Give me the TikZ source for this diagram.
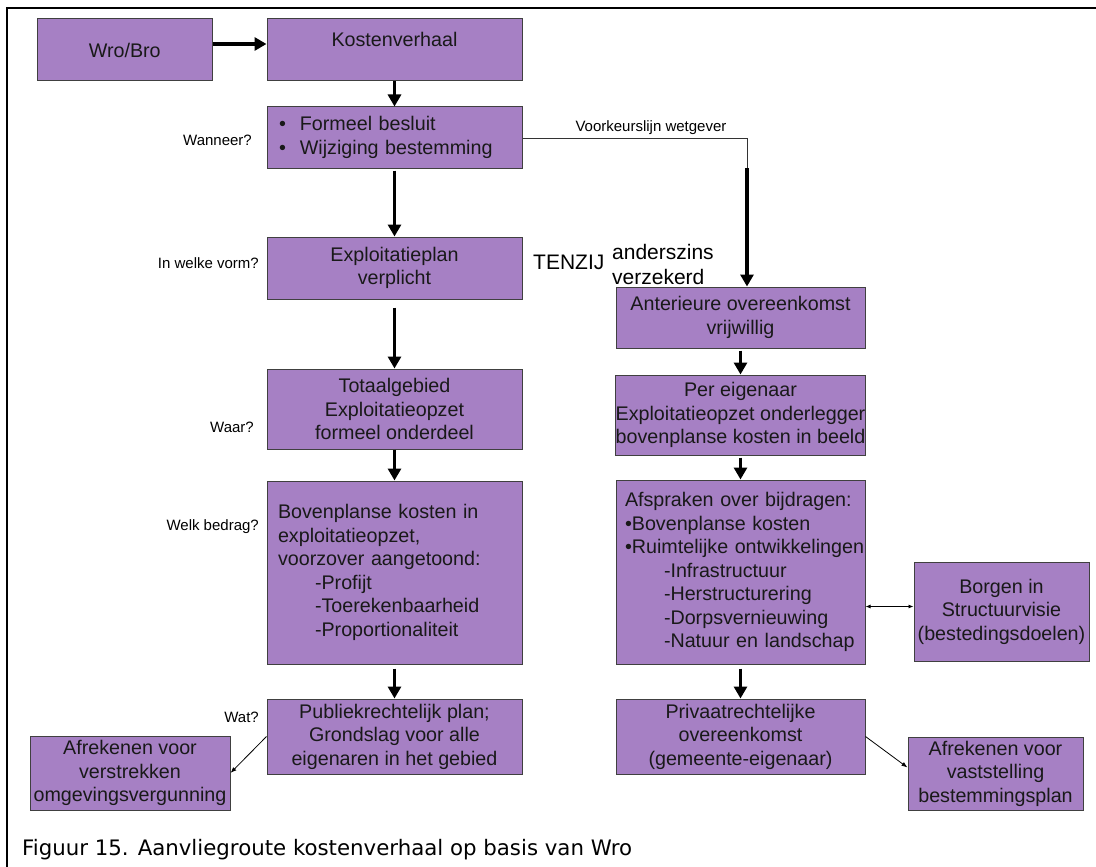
\documentclass[tikz,border=0pt]{standalone}
\usepackage{fontspec}
\setmainfont{Liberation Sans}
\newfontfamily\capfont{DejaVu Sans}
\usetikzlibrary{arrows.meta}
\definecolor{boxfill}{HTML}{A680C4}
\definecolor{boxline}{HTML}{404040}
\tikzset{
  box/.style={draw=boxline, fill=boxfill, line width=1pt, inner sep=0pt, align=center,
    font=\fontsize{19.7}{23.5}\selectfont, text=black!90},
  lbox/.style={box, align=left},
  thick arrow/.style={line width=3.6pt, -{Triangle[length=12pt,width=13pt]}},
  thin arrow/.style={line width=0.8pt, -{Latex[length=6pt,width=4.5pt]}},
  thin both/.style={line width=0.8pt, {Latex[length=5pt,width=4pt]}-{Latex[length=5pt,width=4pt]}},
  thin line/.style={line width=0.8pt, draw=black!80},
  qlabel/.style={font=\fontsize{15}{18}\selectfont, anchor=east, inner sep=0pt},
  bigtext/.style={font=\fontsize{21}{25}\selectfont, inner sep=0pt},
}
\begin{document}
\begin{tikzpicture}[x=1pt,y=-1pt]
\useasboundingbox (0,0) rectangle (1096,867);
\fill[white] (0,0) rectangle (1096,867);
\draw[line width=1.5pt] (7,867) -- (7,8) -- (1096,8);

% left column
\node[box, minimum width=174.5, minimum height=62] (wro) at (124.75,50) {Wro/Bro};
\node[box, minimum width=255, minimum height=62] (kosten) at (394.5,50) {Kostenverhaal\\[-10pt]\strut};
\node[lbox, text width=231, inner xsep=12, minimum height=61] (formeel) at (394.5,137.5)
  {\textbullet\hspace{14pt}Formeel besluit\\\textbullet\hspace{14pt}Wijziging bestemming};
\node[box, minimum width=255, minimum height=62] (exploit) at (394.5,268) {Exploitatieplan\\verplicht};
\node[box, minimum width=255, minimum height=80] (totaal) at (394.5,409) {Totaalgebied\\Exploitatieopzet\\formeel onderdeel};
\node[lbox, text width=233, inner xsep=11, minimum height=183] (boven) at (394.5,572.5)
  {Bovenplanse kosten in\\exploitatieopzet,\\voorzover aangetoond:\\\hspace*{37pt}-Profijt\\\hspace*{37pt}-Toerekenbaarheid\\\hspace*{37pt}-Proportionaliteit};
\node[box, minimum width=255, minimum height=75] (publiek) at (394.5,736.5) {Publiekrechtelijk plan;\\Grondslag voor alle\\eigenaren in het gebied};
\node[box, minimum width=200, minimum height=74] (afrl) at (130,773) {Afrekenen voor\\verstrekken\\omgevingsvergunning};

% right column
\node[box, minimum width=249, minimum height=61] (anter) at (740.5,317.5) {Anterieure overeenkomst\\vrijwillig};
\node[box, minimum width=249, minimum height=80] (per) at (740.5,415) {Per eigenaar\\Exploitatieopzet onderlegger\\bovenplanse kosten in beeld};
\node[lbox, text width=231, inner xsep=9, minimum height=184] (afspr) at (740.5,572)
  {\mbox{Afspraken over bijdragen:}\\\mbox{\textbullet Bovenplanse kosten}\\\mbox{\textbullet Ruimtelijke ontwikkelingen}\\\hspace*{39pt}\mbox{-Infrastructuur}\\\hspace*{39pt}\mbox{-Herstructurering}\\\hspace*{39pt}\mbox{-Dorpsvernieuwing}\\\hspace*{39pt}\mbox{-Natuur en landschap}};
\node[box, minimum width=175, minimum height=99] (borgen) at (1001.5,611.5) {Borgen in\\Structuurvisie\\(bestedingsdoelen)};
\node[box, minimum width=249, minimum height=75] (privaat) at (740.5,736.5) {Privaatrechtelijke\\overeenkomst\\(gemeente-eigenaar)};
\node[box, minimum width=175, minimum height=73] (afrr) at (995.5,773.5) {Afrekenen voor\\vaststelling\\bestemmingsplan};

% labels
\node[qlabel] (q1) at (252,140) {Wanneer?};
\node[qlabel] (q2) at (259,263) {In welke vorm?};
\node[qlabel] (q3) at (254,427) {Waar?};
\node[qlabel] (q4) at (259,527) {Welk bedrag?};
\node[qlabel] (q5) at (259,717) {Wat?};
\node[bigtext, anchor=west] (tenzij) at (533,262) {TENZIJ};
\node[bigtext, anchor=west, align=left] (anders) at (612,264.5) {anderszins\\verzekerd};
\node[font=\fontsize{15}{18}\selectfont, inner sep=0pt, anchor=south] (vklabel) at (651,135) {Voorkeurslijn wetgever};

% connectors
\coordinate (a1) at (0,44);
\draw[thick arrow] (wro.east |- a1) -- (kosten.west |- a1);
\draw[thick arrow] (kosten.south) -- (formeel.north);
\draw[thick arrow, shorten <=2pt] (formeel.south) -- (exploit.north);
\draw[thick arrow, shorten <=8pt] (exploit.south) -- (totaal.north);
\draw[thick arrow] (totaal.south) -- (boven.north);
\draw[thick arrow, shorten <=4pt] (boven.south) -- (publiek.north);
\draw[thin arrow] (publiek.west) -- (afrl.east);

\coordinate (vk1) at (747,138);
\coordinate (vk2) at (747,168);
\draw[thin line] (formeel.east |- vk1) -- (vk1) -- (vk2);
\draw[thick arrow] (vk2) -- (vk2 |- anter.north);
\draw[thick arrow, shorten <=2pt] (anter.south) -- (per.north);
\draw[thick arrow, shorten <=2pt] (per.south) -- (afspr.north);
\draw[thick arrow, shorten <=4pt] (afspr.south) -- (privaat.north);
\draw[thin both] ([yshift=5pt]borgen.west -| afspr.east) -- ([yshift=5pt]borgen.west);
\draw[thin arrow] (privaat.east) -- ([yshift=6pt]afrr.west);

% caption
\node[font=\capfont\fontsize{21.3}{25}\selectfont, anchor=base west, inner sep=0pt] (caption) at (22,855)
  {Figuur 15. Aanvliegroute kostenverhaal op basis van Wro};
\end{tikzpicture}
\end{document}
